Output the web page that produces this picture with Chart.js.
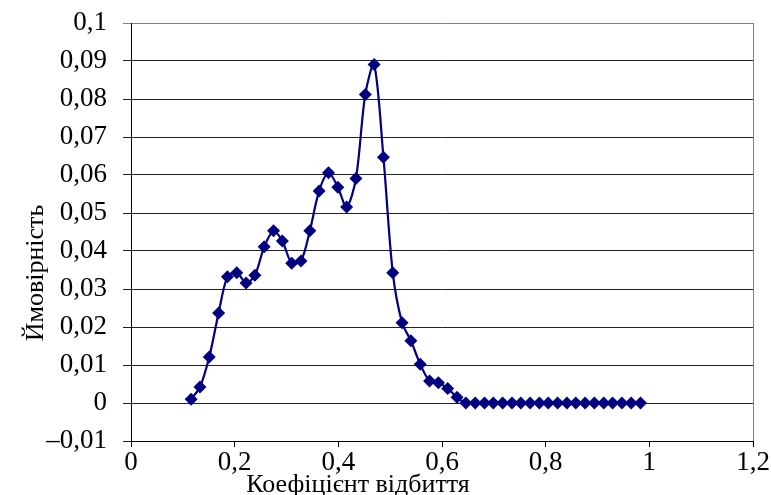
<!DOCTYPE html>
<html>
<head>
<meta charset="utf-8">
<script src="https://cdn.jsdelivr.net/npm/chart.js@4"></script>
<style>
  html, body { margin: 0; padding: 0; background: #fff; }
  #wrap { width: 771px; height: 495px; }
</style>
</head>
<body>
<div id="wrap"><canvas id="chart" width="771" height="495"></canvas></div>
<script>
// reflection coefficient (x) and probability (y)
const reflection = [
    0.116, 0.133, 0.151, 0.169, 0.186, 0.204, 0.222, 0.239, 0.257, 0.275,
    0.292, 0.310, 0.328, 0.345, 0.363, 0.381, 0.399, 0.416, 0.434, 0.452,
    0.469, 0.487, 0.505, 0.523, 0.540, 0.558, 0.576, 0.593, 0.611, 0.629,
    0.646, 0.664, 0.682, 0.699, 0.717, 0.735, 0.752, 0.770, 0.788, 0.805,
    0.823, 0.841, 0.858, 0.876, 0.894, 0.912, 0.929, 0.947, 0.965, 0.983
];
const probability = [
    0.0010, 0.0042, 0.0121, 0.0237, 0.0332, 0.0343, 0.0316, 0.0336, 0.0411, 0.0453,
    0.0426, 0.0368, 0.0374, 0.0453, 0.0558, 0.0606, 0.0568, 0.0516, 0.0591, 0.0812,
    0.0891, 0.0647, 0.0343, 0.0211, 0.0164, 0.0102, 0.0058, 0.0053, 0.0038, 0.0015,
    0, 0, 0, 0, 0, 0, 0, 0, 0, 0,
    0, 0, 0, 0, 0, 0, 0, 0, 0, 0
];
const xTickLabels = ['0', '0,2', '0,4', '0,6', '0,8', '1', '1,2'];
const yTickLabels = ['\u20130,01', '0', '0,01', '0,02', '0,03', '0,04', '0,05', '0,06', '0,07', '0,08', '0,09', '0,1'];
const xTitle = 'Коефіцієнт відбиття';
const yTitle = 'Ймовірність';

const serif = "'Liberation Serif', 'Times New Roman', serif";
const navy = '#000080';

// axis titles sit off-centre in the original, so draw them by hand
const axisTitles = {
    id: 'axisTitles',
    afterDraw(chart) {
        const ctx = chart.ctx;
        const area = chart.chartArea;
        ctx.save();
        ctx.fillStyle = '#000';
        ctx.font = '26px ' + serif;
        ctx.textAlign = 'center';
        ctx.textBaseline = 'alphabetic';
        ctx.fillText(xTitle, 358, 492);
        ctx.translate(43, 273);
        ctx.rotate(-Math.PI / 2);
        ctx.fillText(yTitle, 0, 0);
        ctx.restore();

        // grey right edge of the plot area
        ctx.save();
        ctx.strokeStyle = '#808080';
        ctx.lineWidth = 1;
        ctx.beginPath();
        ctx.moveTo(Math.round(area.right) + 0.5, area.top);
        ctx.lineTo(Math.round(area.right) + 0.5, area.bottom);
        ctx.stroke();
        ctx.restore();
    }
};

function drawChart() {
    const points = reflection.map((x, i) => ({ x: x, y: probability[i] }));

    new Chart(document.getElementById('chart'), {
        type: 'line',
        data: {
            datasets: [{
                data: points,
                borderColor: navy,
                backgroundColor: navy,
                borderWidth: 2.2,
                tension: 0.3,
                pointStyle: 'rectRot',
                pointRadius: 6.5,
                pointHoverRadius: 6.5,
                pointBorderWidth: 0,
                clip: false
            }]
        },
        options: {
            responsive: false,
            animation: false,
            layout: { padding: { top: 23, right: 18, bottom: 0, left: 0 } },
            plugins: { legend: { display: false }, tooltip: { enabled: false } },
            scales: {
                x: {
                    type: 'linear',
                    min: 0,
                    max: 1.2,
                    afterFit: (s) => { s.height = 54; s.paddingLeft = 0; s.paddingRight = 0; },
                    afterBuildTicks: (s) => { s.ticks = xTickLabels.map((_, i) => ({ value: i * 0.2 })); },
                    ticks: {
                        color: '#000',
                        font: { family: serif, size: 27 },
                        padding: 0,
                        maxRotation: 0,
                        callback: (v, i) => xTickLabels[i]
                    },
                    grid: { drawOnChartArea: false, drawTicks: true, tickLength: 6, color: '#000' },
                    border: { color: '#000', width: 1 }
                },
                y: {
                    type: 'linear',
                    min: -0.01,
                    max: 0.1,
                    afterFit: (s) => { s.width = 131; s.paddingTop = 0; s.paddingBottom = 0; },
                    afterBuildTicks: (s) => { s.ticks = yTickLabels.map((_, i) => ({ value: -0.01 + i * 0.01 })); },
                    ticks: {
                        color: '#000',
                        font: { family: serif, size: 27 },
                        padding: 16,
                        callback: (v, i) => yTickLabels[i]
                    },
                    grid: {
                        tickLength: 8,
                        lineWidth: 1,
                        color: (c) => c.index === yTickLabels.length - 1 ? '#808080' : '#222'
                    },
                    border: { color: '#000', width: 1 }
                }
            }
        },
        plugins: [axisTitles]
    });
}

document.fonts.load("27px 'Liberation Serif'").then(drawChart, drawChart);
</script>
</body>
</html>
